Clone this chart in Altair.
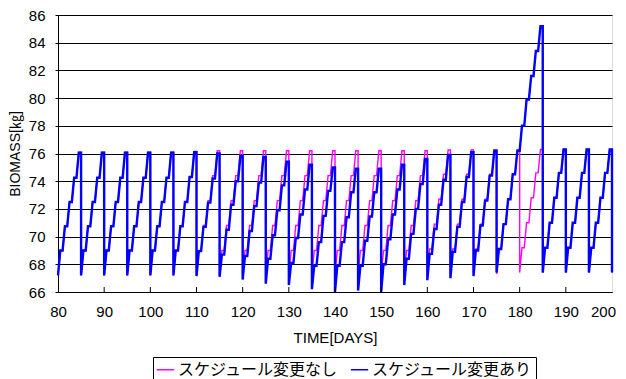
import altair as alt
import pandas as pd

SER_NO = "スケジュール変更なし"
SER_YES = "スケジュール変更あり"

cycle_starts = [80, 85, 90, 95, 100, 105, 110, 115, 120, 125, 130, 135,
                140, 145, 150, 155, 160, 165, 170, 175, 180, 185, 190, 195]
end_day = 200

# levels at start of each day in a 5-day cycle (start, after day1..day5)
blue_levels = [
    [67.2, 69.0, 70.75, 72.5, 74.25, 76.05],
    [67.2, 69.0, 70.75, 72.5, 74.25, 76.05],
    [67.2, 69.0, 70.75, 72.5, 74.25, 76.05],
    [67.2, 69.0, 70.75, 72.5, 74.25, 76.05],
    [67.2, 69.0, 70.75, 72.5, 74.25, 76.05],
    [67.2, 69.0, 70.75, 72.5, 74.3, 76.1],
    [67.15, 68.95, 70.7, 72.45, 74.2, 76.0],
    [67.1, 68.7, 70.5, 72.3, 74.0, 75.8],
    [66.9, 68.6, 70.4, 72.2, 73.9, 75.75],
    [66.6, 68.4, 70.1, 71.9, 73.7, 75.4],
    [66.5, 68.1, 69.9, 71.6, 73.4, 75.2],
    [66.2, 67.9, 69.6, 71.5, 73.3, 75.0],
    [66.0, 67.9, 69.6, 71.4, 73.2, 74.9],
    [66.1, 67.9, 69.7, 71.45, 73.2, 74.9],
    [66.0, 68.0, 69.8, 71.6, 73.4, 75.2],
    [66.5, 68.4, 70.2, 72.0, 73.8, 75.6],
    [66.85, 68.75, 70.55, 72.3, 74.1, 75.9],
    [67.0, 68.9, 70.7, 72.5, 74.3, 76.1],
    [67.15, 69.0, 70.8, 72.6, 74.4, 76.2],
    [67.4, 69.1, 70.9, 72.7, 74.5, 76.2],
    [76.2, 78.0, 79.9, 81.6, 83.4, 85.2],
    [67.4, 69.2, 71.0, 72.8, 74.6, 76.3],
    [67.4, 69.2, 71.0, 72.8, 74.6, 76.3],
    [67.4, 69.2, 71.0, 72.8, 74.6, 76.3],
]
blue_end = 67.4

pink_levels = [
    [67.2, 69.0, 70.75, 72.5, 74.25, 76.1],
    [67.2, 69.0, 70.75, 72.5, 74.25, 76.1],
    [67.2, 69.0, 70.75, 72.5, 74.25, 76.1],
    [67.2, 69.0, 70.75, 72.5, 74.25, 76.1],
    [67.2, 69.0, 70.75, 72.5, 74.25, 76.1],
    [67.2, 69.0, 70.75, 72.5, 74.3, 76.15],
    [67.2, 69.0, 70.8, 72.6, 74.4, 76.2],
    [67.2, 69.0, 70.8, 72.6, 74.4, 76.2],
    [67.2, 69.0, 70.8, 72.6, 74.4, 76.2],
    [67.2, 69.0, 70.8, 72.6, 74.4, 76.2],
    [67.2, 69.0, 70.8, 72.6, 74.4, 76.2],
    [67.2, 69.0, 70.8, 72.6, 74.4, 76.2],
    [67.2, 69.0, 70.8, 72.6, 74.4, 76.2],
    [67.2, 69.0, 70.8, 72.6, 74.4, 76.2],
    [67.2, 69.0, 70.8, 72.6, 74.4, 76.2],
    [67.2, 69.0, 70.8, 72.6, 74.4, 76.2],
    [67.3, 69.1, 70.9, 72.7, 74.5, 76.25],
    [67.3, 69.1, 70.9, 72.7, 74.5, 76.25],
    [67.3, 69.1, 70.9, 72.7, 74.5, 76.25],
    [67.3, 69.1, 70.9, 72.7, 74.5, 76.25],
    [67.4, 69.2, 71.0, 72.8, 74.6, 76.3],
    [67.4, 69.2, 71.0, 72.8, 74.6, 76.3],
    [67.4, 69.2, 71.0, 72.8, 74.6, 76.3],
    [67.4, 69.2, 71.0, 72.8, 74.6, 76.3],
]
pink_end = 67.4

x_ticks = [80, 90, 100, 110, 120, 130, 140, 150, 160, 170, 180, 190, 200]
y_ticks = [66, 68, 70, 72, 74, 76, 78, 80, 82, 84, 86]

RISE = 0.5  # fraction of a day spent rising to the next level


def build(series, starts, levels, end_val):
    rows = []
    k = 0
    for t0, lv in zip(starts, levels):
        rows.append((series, k, t0, lv[0])); k += 1
        for d in range(5):
            rows.append((series, k, t0 + d + RISE, lv[d + 1])); k += 1
            rows.append((series, k, t0 + d + 1, lv[d + 1])); k += 1
    rows.append((series, k, end_day, end_val))
    return rows


rows = build(SER_NO, cycle_starts, pink_levels, pink_end) + \
    build(SER_YES, cycle_starts, blue_levels, blue_end)
df = pd.DataFrame(rows, columns=["series", "i", "day", "biomass"])

FONT = "Liberation Sans, Noto Sans CJK JP"

color_scale = alt.Scale(domain=[SER_NO, SER_YES], range=["#FF00FF", "#0000FF"])

x_enc = alt.X("day:Q", scale=alt.Scale(domain=[80, 200], nice=False),
              axis=alt.Axis(values=x_ticks, title="TIME[DAYS]", grid=False,
                            ticks=False, labelPadding=12, labelFontSize=15,
                            labelFlush=False, labelOverlap=False,
                            labelOffset={"condition": {"test": "datum.value == 200",
                                                       "value": -9},
                                         "value": 0},
                            titleFontSize=15, titleFontWeight="normal",
                            titleY=38, domainColor="black", labelColor="black",
                            titleColor="black", labelFont=FONT, titleFont=FONT))
y_enc = alt.Y("biomass:Q", scale=alt.Scale(domain=[66, 86], nice=False),
              axis=alt.Axis(values=y_ticks, title="BIOMASS[㎏]", grid=True,
                            gridColor="black", gridOpacity=1, gridWidth=1,
                            tickSize=3, tickColor="black", labelPadding=10,
                            labelFlush=False, labelOverlap=False,
                            labelFontSize=15, titleFontSize=14,
                            titleFontWeight="normal", titlePadding=6,
                            domainColor="black", labelColor="black",
                            titleColor="black", labelFont=FONT, titleFont=FONT))

legend = alt.Legend(orient="none", legendX=95, legendY=342, direction="horizontal",
                    title=None, strokeColor="black", padding=3,
                    symbolType="stroke", symbolSize=300, symbolStrokeWidth=1.5,
                    labelFont="Noto Sans CJK JP", labelFontSize=16,
                    labelColor="black", labelLimit=400, columnPadding=8,
                    labelOffset=3)

pink = alt.Chart(df).transform_filter(alt.datum.series == SER_NO).mark_line(
    strokeWidth=1.4).encode(
    x=x_enc, y=y_enc, order="i:Q",
    color=alt.Color("series:N", scale=color_scale, legend=legend))

blue = alt.Chart(df).transform_filter(alt.datum.series == SER_YES).mark_line(
    strokeWidth=2.4).encode(
    x=x_enc, y=y_enc, order="i:Q",
    color=alt.Color("series:N", scale=color_scale, legend=legend))

tick_df = pd.DataFrame({"t": x_ticks[1:-1]})
ticks = alt.Chart(tick_df).mark_rule(color="black", strokeWidth=1).encode(
    x=alt.X("t:Q", scale=alt.Scale(domain=[80, 200], nice=False)),
    y=alt.value(277), y2=alt.value(272))

chart = alt.layer(pink, blue, ticks).properties(
    width=554, height=277,
    autosize=alt.AutoSizeParams(type="none"),
    padding={"left": 50, "top": 7, "right": 6, "bottom": 87},
).configure_view(stroke="#808080", strokeWidth=1).configure(background="white")

chart.save("out.html", embed_options={"renderer": "svg", "actions": False})
